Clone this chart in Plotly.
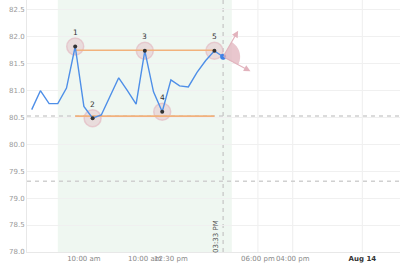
import math
import plotly.graph_objects as go

# ---- data ----
idx = list(range(23))
values = [80.64, 80.99, 80.75, 80.75, 81.04, 81.81, 80.70, 80.48, 80.54, 80.89,
          81.23, 80.99, 80.74, 81.73, 80.97, 80.60, 81.19, 81.08, 81.06, 81.33,
          81.55, 81.73, 81.62]

pivot_idx = [5, 7, 13, 15, 21]
pivot_labels = ["1", "2", "3", "4", "5"]

upper_level = 81.74
lower_level = 80.52
level_start, level_end = 5, 21

dashed_levels = [80.52, 79.31]
session_start, session_end = 3, 23
now_idx = 22
now_label = "03:33 PM"

tick_vals = [6, 13, 16, 26, 30, 38]
tick_text = ["10:00 am", "10:00 am", "12:30 pm", "06:00 pm", "04:00 pm",
             "<b><span style='color:#333'>Aug 14</span></b>"]
grid_x = [26, 30, 38]

y_ticks = [78.0, 78.5, 79.0, 79.5, 80.0, 80.5, 81.0, 81.5, 82.0, 82.5]

x_range = [-0.54, 42.33]
y_range = [78.0, 82.672]

# projection fan (angles in screen degrees, lengths in px)
fan_angles = [-60, 28]
fan_radius = 17
arrow_len = [30, 31]

# ---- figure ----
W, H = 400, 278
ml, mr, mt, mb = 27, 0, 0, 26
sx = (W - ml - mr) / (x_range[1] - x_range[0])
sy = (H - mt - mb) / (y_range[1] - y_range[0])

pv = [values[i] for i in pivot_idx]
fig = go.Figure()

# pink circles
fig.add_trace(go.Scatter(x=pivot_idx, y=pv, mode="markers",
                         marker=dict(size=17, color="rgba(226,180,190,0.4)",
                                     line=dict(color="rgba(226,180,190,0.6)", width=1.5)),
                         hoverinfo="skip", showlegend=False))
# orange levels
for lv in (upper_level, lower_level):
    fig.add_trace(go.Scatter(x=[level_start, level_end], y=[lv, lv], mode="lines",
                             line=dict(color="#f2b27c", width=1.6),
                             hoverinfo="skip", showlegend=False))
# main line
fig.add_trace(go.Scatter(x=idx, y=values, mode="lines",
                         line=dict(color="#4e8fe8", width=1.4),
                         showlegend=False))
# last point
fig.add_trace(go.Scatter(x=[idx[-1]], y=[values[-1]], mode="markers",
                         marker=dict(size=6, color="#3f82e6"),
                         showlegend=False))
# pivot dots
fig.add_trace(go.Scatter(x=pivot_idx, y=pv, mode="markers",
                         marker=dict(size=4, color="#333333"),
                         showlegend=False))

shapes = []
shapes.append(dict(type="rect", xref="x", yref="paper", x0=session_start, x1=session_end,
                   y0=0, y1=1, fillcolor="#eff7f1", line=dict(width=0), layer="below"))
for gx in grid_x:
    shapes.append(dict(type="line", xref="x", yref="paper", x0=gx, x1=gx, y0=0, y1=1,
                       line=dict(color="#eeeeee", width=1), layer="below"))
for lv in dashed_levels:
    shapes.append(dict(type="line", xref="paper", yref="y", x0=0, x1=1, y0=lv, y1=lv,
                       line=dict(color="#d0d0d0", width=1.5, dash="4px,4px"), layer="below"))
shapes.append(dict(type="line", xref="x", yref="paper", x0=now_idx, x1=now_idx, y0=0, y1=1,
                   line=dict(color="#c4c4c4", width=1.2, dash="4px,4px"), layer="below"))

# fan sector
cx, cy = idx[-1], values[-1]
pts = []
n = 24
for k in range(n + 1):
    a = math.radians(fan_angles[0] + (fan_angles[1] - fan_angles[0]) * k / n)
    pts.append((cx + fan_radius * math.cos(a) / sx, cy - fan_radius * math.sin(a) / sy))
path = f"M {cx},{cy} " + " ".join(f"L {px},{py}" for px, py in pts) + " Z"
shapes.append(dict(type="path", xref="x", yref="y", path=path,
                   fillcolor="rgba(226,180,190,0.75)", line=dict(width=0), layer="above"))

annotations = []
for a_deg, L in zip(fan_angles, arrow_len):
    a = math.radians(a_deg)
    hx = cx + L * math.cos(a) / sx
    hy = cy - L * math.sin(a) / sy
    annotations.append(dict(x=hx, y=hy, ax=cx, ay=cy, xref="x", yref="y", axref="x", ayref="y",
                            text="", showarrow=True, arrowhead=2, arrowsize=1.1,
                            arrowwidth=1.2, arrowcolor="#e2b3bd"))
for i, lab in zip(pivot_idx, pivot_labels):
    annotations.append(dict(x=i, y=values[i], text=lab, showarrow=False, yshift=14,
                            font=dict(size=7.5, color="#333333", family="DejaVu Sans")))
annotations.append(dict(x=now_idx, y=78.29, text=now_label, textangle=-90, showarrow=False,
                        xshift=-6.5, font=dict(size=7, color="#555555", family="DejaVu Sans")))

fig.update_layout(
    width=W, height=H, margin=dict(l=ml, r=mr, t=mt, b=mb),
    paper_bgcolor="white", plot_bgcolor="white",
    shapes=shapes, annotations=annotations, showlegend=False,
    font=dict(family="DejaVu Sans", size=7, color="#999999"),
    xaxis=dict(range=x_range, tickvals=tick_vals, ticktext=tick_text, showgrid=False,
               zeroline=False, showline=True, linecolor="#e8e8e8", ticks="", tickangle=0,
               tickfont=dict(size=7, color="#888888"), fixedrange=True),
    yaxis=dict(range=y_range, tickvals=y_ticks, tickformat=".1f", showgrid=True,
               gridcolor="#f0f0f0", zeroline=False, showline=True, linecolor="#e8e8e8",
               ticks="", tickfont=dict(size=7, color="#999999"), fixedrange=True),
)

fig.write_html("out.html")
